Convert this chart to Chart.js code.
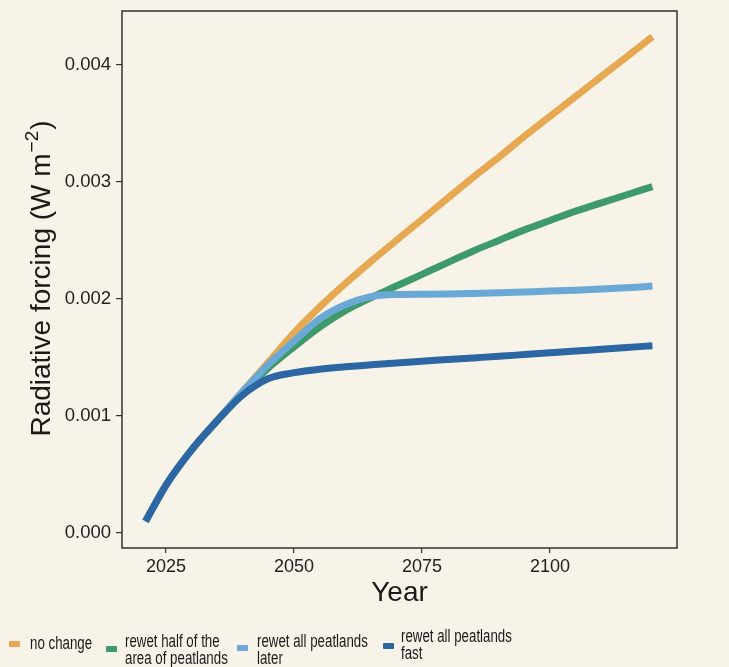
<!DOCTYPE html>
<html>
<head>
<meta charset="utf-8">
<script src="https://cdn.jsdelivr.net/npm/chart.js@4/dist/chart.umd.min.js"></script>
<style>
  html, body { margin: 0; padding: 0; background: #f7f3e9; }
  #wrap { position: relative; width: 729px; height: 667px; overflow: hidden; }
  #chart { position: absolute; left: 0; top: 0; }
  .leg { position: absolute; font-family: "Liberation Sans", Arial, sans-serif;
         font-size: 17.5px; line-height: 16.5px; color: #1a1a1a; white-space: nowrap;
         transform: scaleX(0.76); transform-origin: 0 0; }
  .sw { position: absolute; width: 11px; height: 6px; border-radius: 1px; }
</style>
</head>
<body>
<div id="wrap">
  <canvas id="chart" width="729" height="667"></canvas>
  <div class="sw" style="left:9px;top:641px;background:#e6a951"></div>
  <div class="leg" style="left:30px;top:635px">no change</div>
  <div class="sw" style="left:106px;top:646px;background:#3f9a6b"></div>
  <div class="leg" style="left:125px;top:633px">rewet half of the<br>area of peatlands</div>
  <div class="sw" style="left:237px;top:645px;background:#6aa9d5"></div>
  <div class="leg" style="left:257px;top:633px">rewet all peatlands<br>later</div>
  <div class="sw" style="left:383px;top:643px;background:#2c67a3"></div>
  <div class="leg" style="left:401px;top:628px">rewet all peatlands<br>fast</div>
</div>
<script>
// valeurs
var annees = [2021,2025,2030,2035,2040,2045,2050,2055,2060,2065,2070,2075,2080,2085,2090,2095,2100,2105,2110,2115,2120];

var pasDeChangement = [0.00010,0.00041,0.00071,0.00096,0.00121,0.00146,0.00171,0.00193,0.00213,0.00232,0.00250,0.00268,
                       0.00286,0.00304,0.00321,0.00339,0.00356,0.00373,0.00390,0.00407,0.00424];
var moitie = [0.00010,0.00041,0.00071,0.00096,0.00120,0.00141,0.00159,0.00176,0.00190,0.00201,0.00211,0.00221,
              0.00231,0.00241,0.00250,0.00259,0.00267,0.00275,0.00282,0.00289,0.00296];
var toutPlusTard = [0.00010,0.00041,0.00071,0.00096,0.00121,0.00144,0.00164,0.00183,0.00195,0.00202,0.002038,0.002040,
                    0.002042,0.002047,0.002053,0.002060,0.002067,0.002075,0.002084,0.002095,0.002110];
var toutVite = [0.00010,0.00041,0.00071,0.00096,0.001180,0.001320,0.001370,0.001400,0.001420,0.001437,0.001453,0.001468,
                0.001482,0.001496,0.001510,0.001525,0.001540,0.001555,0.001570,0.001585,0.001600];

var noms = ['no change','rewet half of the area of peatlands','rewet all peatlands later','rewet all peatlands fast'];
var couleurs = ['#e6a951','#3f9a6b','#6aa9d5','#2c67a3'];

var ticksX = [2025,2050,2075,2100];
var ticksY = [0.000,0.001,0.002,0.003,0.004];

var police = '"Liberation Sans", Arial, sans-serif';
Chart.defaults.font.family = police;

// fond + cadre + titre de l'axe y (avec exposant)
var decor = {
  id: 'decor',
  beforeDraw: function(chart){
    var ctx = chart.ctx;
    ctx.save();
    ctx.fillStyle = '#f7f3e9';
    ctx.fillRect(0, 0, chart.width, chart.height);
    ctx.restore();
  },
  afterDraw: function(chart){
    var ctx = chart.ctx, a = chart.chartArea;
    ctx.save();
    ctx.strokeStyle = '#333333';
    ctx.lineWidth = 1.5;
    ctx.strokeRect(a.left, a.top, a.right - a.left, a.bottom - a.top);

    ctx.translate(50, (a.top + a.bottom) / 2);
    ctx.rotate(-Math.PI / 2);
    ctx.fillStyle = '#1a1a1a';
    ctx.textBaseline = 'alphabetic';
    var t1 = 'Radiative forcing (W m', t2 = '\u22122', t3 = ')';
    ctx.font = '28px ' + police;
    var w1 = ctx.measureText(t1).width, w3 = ctx.measureText(t3).width;
    ctx.font = '19px ' + police;
    var w2 = ctx.measureText(t2).width;
    var x = -(w1 + w2 + w3) / 2;
    ctx.font = '28px ' + police;
    ctx.fillText(t1, x, 0);
    ctx.font = '19px ' + police;
    ctx.fillText(t2, x + w1 + 1, -12);
    ctx.font = '28px ' + police;
    ctx.fillText(t3, x + w1 + w2 + 2, 0);
    ctx.restore();
  }
};

var series = [pasDeChangement, moitie, toutPlusTard, toutVite];
var jeux = [];
for (var i = 0; i < series.length; i++) {
  jeux.push({
    label: noms[i],
    data: series[i],
    borderColor: couleurs[i],
    backgroundColor: couleurs[i],
    borderWidth: 7,
    pointRadius: 0,
    fill: false,
    cubicInterpolationMode: 'monotone',
    borderCapStyle: 'butt',
    order: 4 - i
  });
}

new Chart(document.getElementById('chart'), {
  type: 'line',
  data: { labels: annees, datasets: jeux },
  plugins: [decor],
  options: {
    responsive: false,
    animation: false,
    layout: { padding: { left: 0, top: 11, right: 52, bottom: 57 } },
    plugins: { legend: { display: false }, tooltip: { enabled: false } },
    scales: {
      x: {
        type: 'linear',
        min: 2016.4,
        max: 2124.8,
        afterBuildTicks: function(s){ s.ticks = ticksX.map(function(v){ return {value: v}; }); },
        afterFit: function(s){ s.height = 62; s.paddingLeft = 0; s.paddingRight = 0; },
        grid: { display: true, drawOnChartArea: false, drawTicks: true, tickLength: 5, color: '#333333', lineWidth: 1.2 },
        border: { display: false },
        ticks: { color: '#222222', font: { size: 18 }, padding: 3, maxRotation: 0,
                 callback: function(v){ return String(v); } },
        title: { display: true, text: 'Year', color: '#1a1a1a', font: { size: 28 }, padding: { top: 0, bottom: 0 } }
      },
      y: {
        type: 'linear',
        min: -0.000128,
        max: 0.00446,
        afterBuildTicks: function(s){ s.ticks = ticksY.map(function(v){ return {value: v}; }); },
        afterFit: function(s){ s.width = 122; s.paddingTop = 0; s.paddingBottom = 0; },
        grid: { display: true, drawOnChartArea: false, drawTicks: true, tickLength: 6, color: '#333333', lineWidth: 1.2 },
        border: { display: false },
        ticks: { color: '#222222', font: { size: 18.5 }, padding: 5,
                 callback: function(v){ return v.toFixed(3); } }
      }
    }
  }
});
</script>
</body>
</html>
